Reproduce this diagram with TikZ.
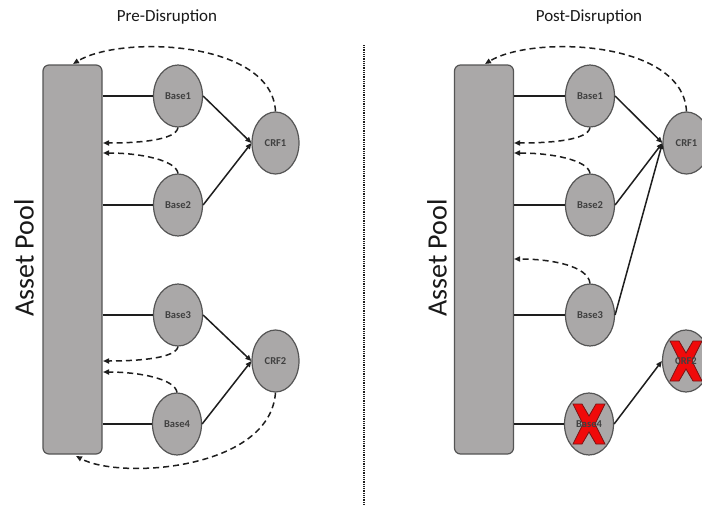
\documentclass[tikz,border=0pt]{standalone}
\usepackage{fontspec}
\setmainfont{Carlito}
\usetikzlibrary{shapes.geometric,arrows.meta}
\definecolor{nodefill}{RGB}{170,168,168}
\definecolor{nodeedge}{RGB}{85,85,85}
\definecolor{lineclr}{RGB}{30,30,30}
\definecolor{xred}{RGB}{240,10,10}
\definecolor{xedge}{RGB}{120,20,20}
\tikzset{
  pool/.style={draw=nodeedge, line width=1.2pt, fill=nodefill, rounded corners=6pt,
    minimum width=59pt, minimum height=389pt, inner sep=0pt},
  ell/.style={ellipse, draw=nodeedge, line width=1.2pt, fill=nodefill,
    minimum width=49pt, minimum height=62pt, inner sep=0pt,
    font=\fontsize{10.5}{10.5}\selectfont\bfseries, text=black!75},
  lbl/.style={inner sep=0pt, font=\fontsize{10.5}{10.5}\selectfont\bfseries, text=black!75},
  title/.style={font=\fontsize{17}{17}\selectfont, text=black!90},
  pooltxt/.style={font=\fontsize{28}{28}\selectfont, rotate=90, text=black!90},
  solid link/.style={draw=lineclr, line width=1.5pt},
  flow/.style={draw=lineclr, line width=1.5pt, -{Triangle[length=6pt,width=5pt]}},
  back/.style={draw=lineclr, line width=1.5pt, dash pattern=on 6pt off 4pt,
    -{Triangle[length=6pt,width=5pt]}},
  divider/.style={draw=lineclr, line width=1.1pt, dash pattern=on 1pt off 0.8pt},
  xmark/.style={fill=xred, draw=xedge, line width=0.8pt}
}
\newcommand{\redx}[1]{%
  \begin{scope}[shift={(#1)}]
    \filldraw[xmark]
      (-16,-20) -- (-7,-20) -- (0,-8) -- (7,-20) -- (16,-20) -- (6,0) --
      (16,20) -- (7,20) -- (0,8) -- (-7,20) -- (-16,20) -- (-6,0) -- cycle;
  \end{scope}}
\begin{document}
\begin{tikzpicture}[x=1pt,y=-1pt]
\useasboundingbox[fill=white] (0,0) rectangle (702,506);

% titles
\node[title] (t1) at (167,17) {Pre-Disruption};
\node[title] (t2) at (589,17) {Post-Disruption};

% divider
\coordinate (dtop) at (364,45);
\coordinate (dbot) at (364,506);
\draw[divider] (dtop) -- (dbot);

% ===== left panel =====
\node[pool] (pL) at (72.5,259.5) {};
\node[pooltxt] (pLt) at (24,258) {Asset Pool};
\node[ell] (b1) at (178,96) {Base1};
\node[ell] (b2) at (178,205) {Base2};
\node[ell] (b3) at (178,315) {Base3};
\node[ell] (b4) at (177,424) {Base4};
\node[ell, minimum width=47pt] (c1) at (275.5,143) {CRF1};
\node[ell, minimum width=47pt] (c2) at (275.5,361) {CRF2};

\draw[solid link] (pL.east |- b1) -- (b1.west);
\draw[solid link] (pL.east |- b2) -- (b2.west);
\draw[solid link] (pL.east |- b3) -- (b3.west);
\draw[solid link] (pL.east |- b4) -- (b4.west);

\draw[flow] (b1.east) -- (c1.west);
\draw[flow] (b2.east) -- (c1.west);
\draw[flow] (b3.east) -- (c2.west);
\draw[flow] (b4.east) -- (c2.west);

\coordinate (La) at (73,64);
\coordinate (Lb) at (103,143);
\coordinate (Lc) at (103,153);
\coordinate (Ld) at (103,361);
\coordinate (Le) at (103,372);
\coordinate (Lf) at (76,456);
\draw[back] (c1.north) .. controls (272,40) and (120,35) .. (La);
\draw[back] (b1.south) .. controls (176,140) and (140,143) .. (Lb);
\draw[back] (b2.north) .. controls (176,160) and (140,153) .. (Lc);
\draw[back] (b3.south) .. controls (176,358) and (140,361) .. (Ld);
\draw[back] (b4.north) .. controls (175,379) and (140,372) .. (Le);
\draw[back] (c2.south) .. controls (270,470) and (120,480) .. (Lf);

% ===== right panel =====
\node[pool] (pR) at (484,259.5) {};
\node[pooltxt] (pRt) at (437,258) {Asset Pool};
\node[ell] (rb1) at (590,96) {Base1};
\node[ell] (rb2) at (590,205) {Base2};
\node[ell] (rb3) at (590,315) {Base3};
\node[ell] (rb4) at (589,424) {};
\node[ell, minimum width=47pt] (rc1) at (686.5,143) {CRF1};
\node[ell, minimum width=47pt] (rc2) at (686,361) {};
\redx{rb4.center}
\redx{rc2.center}
\node[lbl] (rb4t) at (rb4.center) {Base4};
\node[lbl] (rc2t) at (rc2.center) {CRF2};

\draw[solid link] (pR.east |- rb1) -- (rb1.west);
\draw[solid link] (pR.east |- rb2) -- (rb2.west);
\draw[solid link] (pR.east |- rb3) -- (rb3.west);
\draw[solid link] (pR.east |- rb4) -- (rb4.west);

\draw[flow] (rb1.east) -- (rc1.west);
\draw[flow] (rb2.east) -- (rc1.west);
\draw[flow] (rb3.east) -- (rc1.west);
\draw[flow] (rb4.east) -- (rc2.west);

\coordinate (Ra) at (485,64);
\coordinate (Rb) at (514,143);
\coordinate (Rc) at (514,153);
\coordinate (Rd) at (514,259);
\draw[back] (rc1.north) .. controls (683,40) and (532,35) .. (Ra);
\draw[back] (rb1.south) .. controls (588,140) and (552,143) .. (Rb);
\draw[back] (rb2.north) .. controls (588,160) and (552,153) .. (Rc);
\draw[back] (rb3.north) .. controls (588,266) and (552,259) .. (Rd);
\end{tikzpicture}
\end{document}
